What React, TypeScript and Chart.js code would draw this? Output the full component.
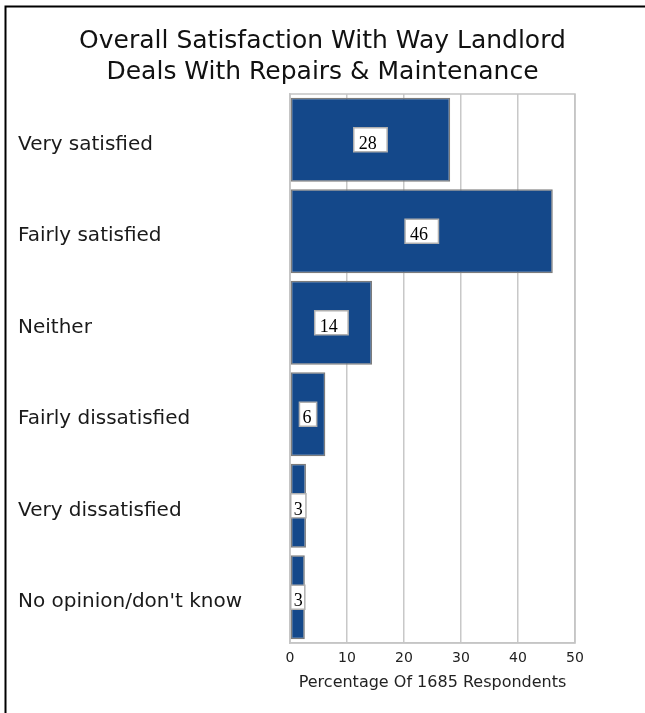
import React, { useEffect, useRef } from "react";
import { Chart, registerables } from "chart.js";

Chart.register(...registerables);

const titleLines = ["Overall Satisfaction With Way Landlord", "Deals With Repairs & Maintenance"];
const categories = [
  "Very satisfied",
  "Fairly satisfied",
  "Neither",
  "Fairly dissatisfied",
  "Very dissatisfied",
  "No opinion/don't know",
];
const values = [28.1, 46.1, 14.4, 6.2, 2.8, 2.6];
const valueLabels = ["28", "46", "14", "6", "3", "3"];
const xTicks = [0, 10, 20, 30, 40, 50];
const xTitle = "Percentage Of 1685 Respondents";

const SANS = "'DejaVu Sans', sans-serif";

const framePlugin = {
  id: "frame",
  beforeDraw(chart: any) {
    const { ctx, width, height } = chart;
    ctx.save();
    ctx.fillStyle = "#ffffff";
    ctx.fillRect(0, 0, width, height);
    ctx.restore();
  },
  afterDraw(chart: any) {
    const { ctx, width, height } = chart;
    ctx.save();
    ctx.strokeStyle = "#000000";
    ctx.lineWidth = 2;
    ctx.beginPath();
    ctx.moveTo(4.5, 6.5);
    ctx.lineTo(width, 6.5);
    ctx.moveTo(5.5, 5.5);
    ctx.lineTo(5.5, height);
    ctx.stroke();
    // title, centred on the whole page width
    ctx.fillStyle = "#111111";
    ctx.font = `25px ${SANS}`;
    ctx.textAlign = "center";
    ctx.textBaseline = "alphabetic";
    const cx = (width + 0) / 2;
    titleLines.forEach((line, i) => {
      ctx.fillText(line, cx, 47.5 + i * 31.5);
    });
    ctx.restore();
  },
};

const plotBorderPlugin = {
  id: "plotBorder",
  beforeDatasetsDraw(chart: any) {
    const { ctx, chartArea } = chart;
    ctx.save();
    ctx.strokeStyle = "#c4c4c4";
    ctx.lineWidth = 1.5;
    ctx.strokeRect(chartArea.left, chartArea.top, chartArea.right - chartArea.left, chartArea.bottom - chartArea.top);
    ctx.restore();
  },
};

const valueBoxPlugin = {
  id: "valueBoxes",
  afterDatasetsDraw(chart: any) {
    const { ctx } = chart;
    const meta = chart.getDatasetMeta(0);
    ctx.save();
    ctx.font = "18px 'Liberation Serif', 'DejaVu Serif', serif";
    ctx.textBaseline = "alphabetic";
    ctx.textAlign = "left";
    meta.data.forEach((bar: any, i: number) => {
      const label = valueLabels[i];
      const tw = ctx.measureText(label).width;
      const barW = Math.abs(bar.x - bar.base);
      let w = tw * 1.8 + 1;
      if (w > barW) w = barW;
      const h = 24;
      const cx = (bar.x + bar.base) / 2;
      const bx = cx - w / 2;
      const by = bar.y - h / 2;
      ctx.fillStyle = "#ffffff";
      ctx.fillRect(bx, by, w, h);
      ctx.strokeStyle = "#b0b0b0";
      ctx.lineWidth = 1.5;
      ctx.strokeRect(bx, by, w, h);
      ctx.fillStyle = "#000000";
      const pad = w < 20 ? 3 : 5;
      ctx.fillText(label, bx + pad, by + h - 3);
    });
    ctx.restore();
  },
};

export default function App() {
  const canvasRef = useRef<HTMLCanvasElement | null>(null);

  useEffect(() => {
    document.body.style.margin = "0";
    const canvas = canvasRef.current;
    if (!canvas) return;
    const chart = new Chart(canvas, {
      type: "bar",
      data: {
        labels: categories,
        datasets: [
          {
            data: values,
            backgroundColor: "#14488a",
            borderColor: "#7c7c7c",
            borderWidth: 1.5,
            borderSkipped: false,
            categoryPercentage: 1,
            barPercentage: 0.92,
          },
        ],
      },
      options: {
        indexAxis: "y",
        responsive: false,
        animation: false,
        devicePixelRatio: 1,
        layout: { padding: { left: 18, right: 70, top: 94, bottom: 0 } },
        plugins: {
          legend: { display: false },
          tooltip: { enabled: false },
          title: { display: false },
        },
        scales: {
          x: {
            type: "linear",
            min: 0,
            max: 50,
            afterBuildTicks(scale: any) {
              scale.ticks = xTicks.map((v) => ({ value: v }));
            },
            afterFit(scale: any) {
              scale.height = 70;
            },
            grid: { color: "#c8c8c8", lineWidth: 1.5, drawTicks: false },
            border: { display: true, color: "#c8c8c8", width: 1.5 },
            ticks: {
              color: "#222222",
              font: { family: SANS, size: 14 },
              padding: 7,
            },
            title: {
              display: true,
              text: xTitle,
              color: "#222222",
              font: { family: SANS, size: 16 },
              padding: { top: 4, bottom: 21 },
            },
          },
          y: {
            type: "category",
            afterFit(scale: any) {
              scale.width = 272;
            },
            grid: { display: false, drawTicks: false },
            border: { display: true, color: "#c8c8c8", width: 1.5 },
            ticks: {
              crossAlign: "far",
              color: "#1a1a1a",
              font: { family: SANS, size: 20 },
              labelOffset: 5,
            },
          },
        },
      },
      plugins: [framePlugin, plotBorderPlugin, valueBoxPlugin],
    } as any);
    return () => chart.destroy();
  }, []);

  return (
    <div style={{ width: 645, height: 713 }}>
      <canvas ref={canvasRef} width={645} height={713} style={{ display: "block" }} />
    </div>
  );
}
